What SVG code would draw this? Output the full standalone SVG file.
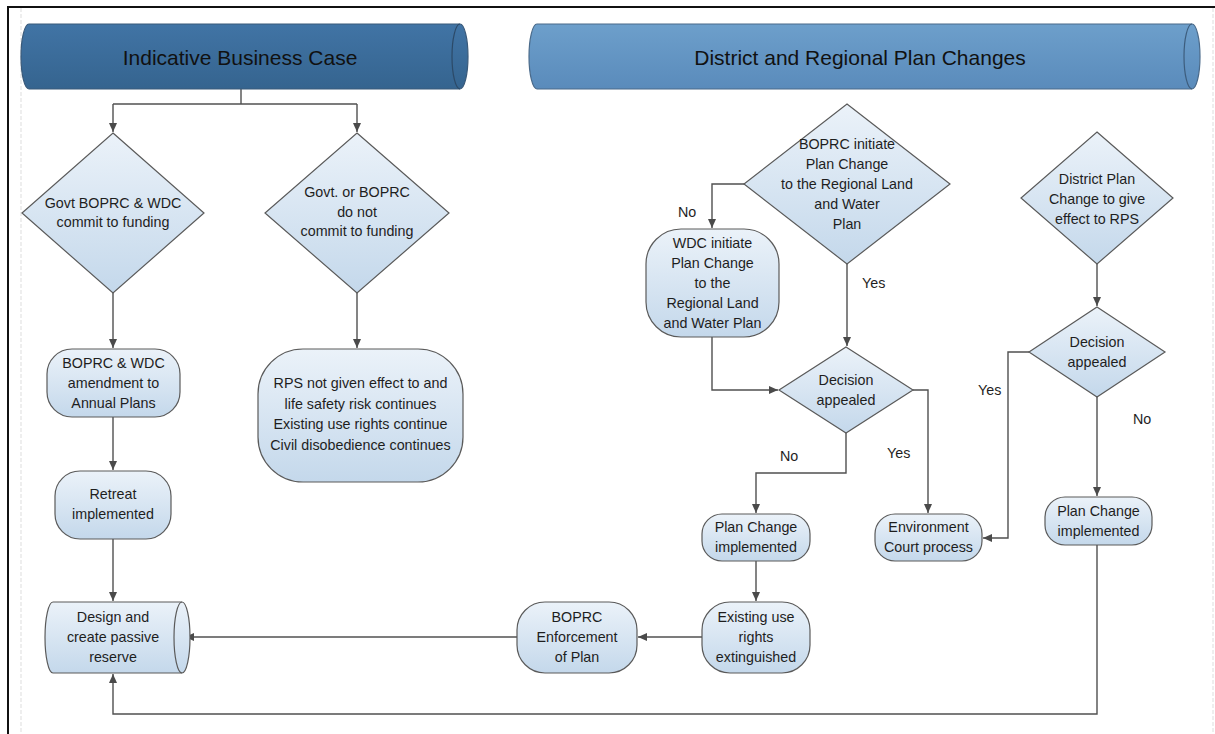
<svg xmlns="http://www.w3.org/2000/svg" width="1215" height="734" viewBox="0 0 1215 734">
<defs>
<linearGradient id="gNode" x1="0" y1="0" x2="0" y2="1">
<stop offset="0" stop-color="#EBF2F9"/>
<stop offset="1" stop-color="#C4D8EB"/>
</linearGradient>
<linearGradient id="gH1" x1="0" y1="0" x2="0" y2="1">
<stop offset="0" stop-color="#4174A5"/>
<stop offset="1" stop-color="#35648F"/>
</linearGradient>
<linearGradient id="gH2" x1="0" y1="0" x2="0" y2="1">
<stop offset="0" stop-color="#6D9FCB"/>
<stop offset="1" stop-color="#5A8BBB"/>
</linearGradient>
<marker id="arr" markerWidth="10" markerHeight="10" refX="9" refY="5" orient="auto" markerUnits="userSpaceOnUse">
<path d="M0,1 L9,5 L0,9 Z" fill="#4a4a4a"/>
</marker>
</defs>
<style>
.node{fill:url(#gNode);stroke:#5a5a5a;stroke-width:1.2}
.cap{fill:none;stroke:#5a5a5a;stroke-width:1.2}
.t{font-family:"Liberation Sans",Arial,sans-serif;font-size:14.3px;fill:#1e1e1e;text-anchor:middle}
.ht{font-family:"Liberation Sans",Arial,sans-serif;font-size:21px;fill:#111;text-anchor:middle}
.c{fill:none;stroke:#505050;stroke-width:1.4}
.ca{fill:none;stroke:#505050;stroke-width:1.4;marker-end:url(#arr)}
.lbl{font-family:"Liberation Sans",Arial,sans-serif;font-size:14.3px;fill:#1e1e1e}
</style>
<rect x="0" y="0" width="1215" height="734" fill="#ffffff"/>
<g id="frame">
<line x1="21" y1="8" x2="21" y2="734" stroke="#dddddd" stroke-width="1" stroke-dasharray="4,2"/>
<line x1="1213" y1="8" x2="1213" y2="734" stroke="#dddddd" stroke-width="1" stroke-dasharray="4,2"/>
<line x1="7" y1="7" x2="1215" y2="7" stroke="#111" stroke-width="2"/>
<line x1="8" y1="6" x2="8" y2="734" stroke="#111" stroke-width="2"/>
</g>
<g id="connectors">
<polyline class="c" points="241,89 241,104"/>
<polyline class="c" points="113,104 357,104"/>
<polyline class="ca" points="113,104 113,132"/>
<polyline class="ca" points="357,104 357,132"/>
<polyline class="ca" points="113,293 113,348"/>
<polyline class="ca" points="113,417 113,470"/>
<polyline class="ca" points="113,539 113,601"/>
<polyline class="ca" points="357,293 357,348"/>
<polyline class="ca" points="517,637 185,637"/>
<polyline class="ca" points="702,637 638,637"/>
<polyline class="ca" points="756,561 756,601"/>
<polyline class="ca" points="744,184 712,184 712,228"/>
<polyline class="ca" points="847,264 847,346"/>
<polyline class="ca" points="712,337 712,390 778,390"/>
<polyline class="ca" points="846,433 846,473 756,473 756,513"/>
<polyline class="ca" points="913,390 928,390 928,513"/>
<polyline class="ca" points="1097,264 1097,306"/>
<polyline class="ca" points="1029,352 1008,352 1008,538 983,538"/>
<polyline class="ca" points="1097,397 1097,496"/>
<polyline class="ca" points="1097,545 1097,714 113,714 113,674"/>
<text class="lbl" x="678" y="217">No</text>
<text class="lbl" x="862" y="288">Yes</text>
<text class="lbl" x="780" y="461">No</text>
<text class="lbl" x="887" y="458">Yes</text>
<text class="lbl" x="978" y="395">Yes</text>
<text class="lbl" x="1133" y="424">No</text>
</g>
<g id="hdr1">
<path d="M29,24 H460 A8,32.5 0 0 1 460,89 H29 A8,32.5 0 0 1 29,24 Z" fill="url(#gH1)" stroke="#3a5a7a" stroke-width="1.2"/>
<path d="M460,24 A8,32.5 0 0 0 460,89" fill="none" stroke="#2c4a68" stroke-width="1.2"/>
<text class="ht" x="240" y="65">Indicative Business Case</text>
</g>
<g id="hdr2">
<path d="M537,24 H1192 A8,32.5 0 0 1 1192,89 H537 A8,32.5 0 0 1 537,24 Z" fill="url(#gH2)" stroke="#4a6a8a" stroke-width="1.2"/>
<path d="M1192,24 A8,32.5 0 0 0 1192,89" fill="none" stroke="#3d5d7d" stroke-width="1.2"/>
<text class="ht" x="860" y="65">District and Regional Plan Changes</text>
</g>
<g id="d_fund">
<polygon class="node" points="113,133 204,213 113,293 22,213"/>
<text class="t" x="113" y="208">Govt BOPRC &amp; WDC</text>
<text class="t" x="113" y="227">commit to funding</text>
</g>
<g id="d_nofund">
<polygon class="node" points="357,133 449,213 357,293 265,213"/>
<text class="t" x="357" y="197">Govt. or BOPRC</text>
<text class="t" x="357" y="217">do not</text>
<text class="t" x="357" y="236">commit to funding</text>
</g>
<g id="n_amend">
<rect class="node" x="47" y="349" width="133" height="68" rx="25" ry="25"/>
<text class="t" x="113.5" y="368">BOPRC &amp; WDC</text>
<text class="t" x="113.5" y="388">amendment to</text>
<text class="t" x="113.5" y="408">Annual Plans</text>
</g>
<g id="n_retreat">
<rect class="node" x="55" y="471" width="116" height="68" rx="25" ry="25"/>
<text class="t" x="113" y="499">Retreat</text>
<text class="t" x="113" y="519">implemented</text>
</g>
<g id="n_rps">
<rect class="node" x="258" y="349" width="205" height="133" rx="45" ry="45"/>
<text class="t" x="360.5" y="388">RPS not given effect to and</text>
<text class="t" x="360.5" y="409">life safety risk continues</text>
<text class="t" x="360.5" y="429">Existing use rights continue</text>
<text class="t" x="360.5" y="450">Civil disobedience continues</text>
</g>
<g id="n_design">
<path class="node" d="M53,602 H182 A8,35.5 0 0 1 182,673 H53 A8,35.5 0 0 1 53,602 Z"/>
<path class="cap" d="M182,602 A8,35.5 0 0 0 182,673"/>
<text class="t" x="113" y="622">Design and</text>
<text class="t" x="113" y="642">create passive</text>
<text class="t" x="113" y="662">reserve</text>
</g>
<g id="n_enforce">
<rect class="node" x="517" y="602" width="120" height="71" rx="28" ry="28"/>
<text class="t" x="577" y="622">BOPRC</text>
<text class="t" x="577" y="642">Enforcement</text>
<text class="t" x="577" y="662">of Plan</text>
</g>
<g id="n_exist">
<rect class="node" x="702" y="602" width="108" height="71" rx="28" ry="28"/>
<text class="t" x="756" y="622">Existing use</text>
<text class="t" x="756" y="642">rights</text>
<text class="t" x="756" y="662">extinguished</text>
</g>
<g id="n_pc1">
<rect class="node" x="702" y="514" width="108" height="47" rx="20" ry="20"/>
<text class="t" x="756" y="532">Plan Change</text>
<text class="t" x="756" y="552">implemented</text>
</g>
<g id="n_court">
<rect class="node" x="875" y="514" width="107" height="47" rx="20" ry="20"/>
<text class="t" x="928.5" y="532">Environment</text>
<text class="t" x="928.5" y="552">Court process</text>
</g>
<g id="d_boprc">
<polygon class="node" points="847,104 950,184 847,264 744,184"/>
<text class="t" x="847" y="149">BOPRC initiate</text>
<text class="t" x="847" y="169">Plan Change</text>
<text class="t" x="847" y="189">to the Regional Land</text>
<text class="t" x="847" y="209">and Water</text>
<text class="t" x="847" y="229">Plan</text>
</g>
<g id="n_wdc">
<rect class="node" x="646" y="229" width="133" height="108" rx="35" ry="35"/>
<text class="t" x="712.5" y="248">WDC initiate</text>
<text class="t" x="712.5" y="268">Plan Change</text>
<text class="t" x="712.5" y="288">to the</text>
<text class="t" x="712.5" y="308">Regional Land</text>
<text class="t" x="712.5" y="328">and Water Plan</text>
</g>
<g id="d_dec1">
<polygon class="node" points="846,347 913,390 846,433 779,390"/>
<text class="t" x="846" y="385">Decision</text>
<text class="t" x="846" y="405">appealed</text>
</g>
<g id="d_dps">
<polygon class="node" points="1097,132 1173,198 1097,264 1021,198"/>
<text class="t" x="1097" y="184">District Plan</text>
<text class="t" x="1097" y="204">Change to give</text>
<text class="t" x="1097" y="224">effect to RPS</text>
</g>
<g id="d_dec2">
<polygon class="node" points="1097,307 1165,352 1097,397 1029,352"/>
<text class="t" x="1097" y="347">Decision</text>
<text class="t" x="1097" y="367">appealed</text>
</g>
<g id="n_pc2">
<rect class="node" x="1045" y="497" width="107" height="48" rx="20" ry="20"/>
<text class="t" x="1098.5" y="516">Plan Change</text>
<text class="t" x="1098.5" y="536">implemented</text>
</g>
</svg>
